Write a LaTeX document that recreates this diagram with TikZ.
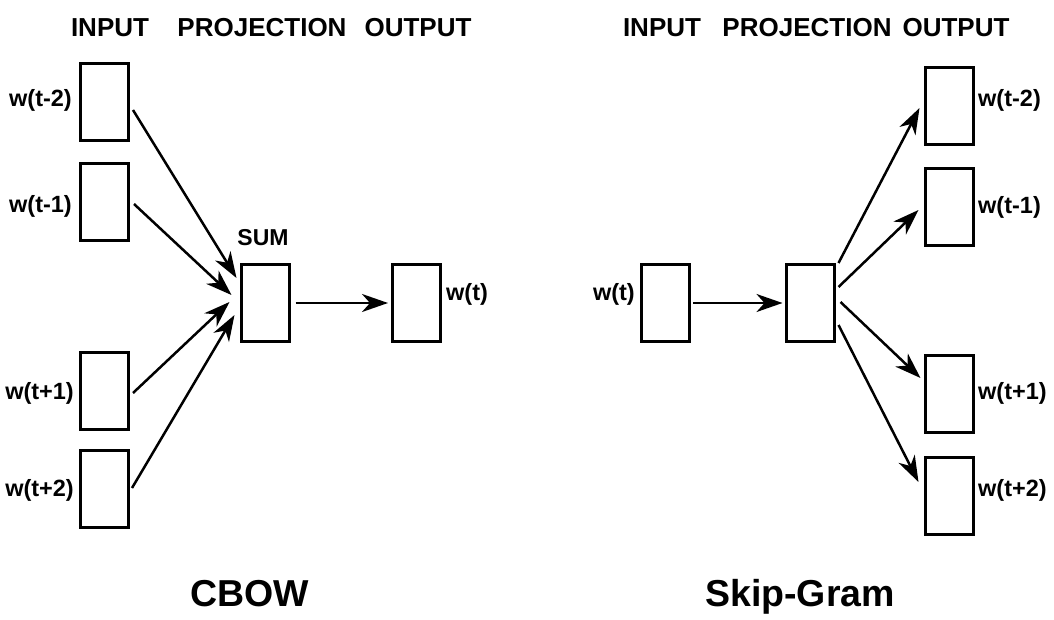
\documentclass[tikz,border=0pt]{standalone}
\usepackage{fontspec}
\setmainfont{Liberation Sans}
\usetikzlibrary{arrows.meta}
\begin{document}
\begin{tikzpicture}[x=1pt,y=-1pt,
  vbox/.style={draw, line width=3pt, minimum width=48pt, minimum height=77pt, inner sep=0pt},
  hdr/.style={anchor=base, font=\bfseries\fontsize{26}{26}\selectfont, inner sep=0pt},
  wlab/.style={font=\bfseries\fontsize{23.5}{23.5}\selectfont, inner sep=0pt},
  ttl/.style={anchor=base, font=\bfseries\fontsize{37.5}{37.5}\selectfont, inner sep=0pt},
  arr/.style={line width=2.5pt, -{Stealth[length=26pt,width=18pt,inset=8pt]}}]
\useasboundingbox (0,0) rectangle (1054,620);
% ---------- CBOW ----------
\node[hdr] (h1) at (110,37) {INPUT};
\node[hdr] (h2) at (262,37) {PROJECTION};
\node[hdr] (h3) at (418,37) {OUTPUT};
\node[vbox] (in1) at (104.5,102) {};
\node[vbox] (in2) at (104.5,202) {};
\node[vbox] (in3) at (104.5,391) {};
\node[vbox] (in4) at (104.5,489) {};
\node[vbox] (sum) at (265,303) {};
\node[vbox] (out) at (416.5,303) {};
\node[wlab, anchor=mid east] (l1) at (72,104) {w(t-2)};
\node[wlab, anchor=mid east] (l2) at (72,210) {w(t-1)};
\node[wlab, anchor=mid east] (l3) at (74,397) {w(t+1)};
\node[wlab, anchor=mid east] (l4) at (74,494) {w(t+2)};
\node[wlab, anchor=mid west] (lo) at (446,298) {w(t)};
\node[anchor=base, font=\bfseries\fontsize{23}{23}\selectfont, inner sep=0pt] (sumlab) at (263,246) {SUM};
\draw[arr] ([shift={(3,8)}]in1.east) -- ([shift={(-3,-25)}]sum.west);
\draw[arr] ([shift={(4,2)}]in2.east) -- ([shift={(-8,-8)}]sum.west);
\draw[arr] ([shift={(3,2)}]in3.east) -- ([shift={(-10,-1)}]sum.west);
\draw[arr] ([shift={(2,-1)}]in4.east) -- ([shift={(-5,12)}]sum.west);
\draw[arr] ([shift={(5,0)}]sum.east) -- ([shift={(-3,0)}]out.west);
\node[ttl] (t1) at (250,606) {CBOW};
% ---------- Skip-Gram ----------
\node[hdr] (k1) at (662,37) {INPUT};
\node[hdr] (k2) at (807,37) {PROJECTION};
\node[hdr] (k3) at (956,37) {OUTPUT};
\node[vbox] (rin) at (665.5,303) {};
\node[vbox] (proj) at (810,303) {};
\node[vbox] (o1) at (949,106) {};
\node[vbox] (o2) at (949,207) {};
\node[vbox] (o3) at (949,394) {};
\node[vbox] (o4) at (949,496) {};
\node[wlab, anchor=mid east] (rl) at (635,298) {w(t)};
\node[wlab, anchor=mid west] (r1) at (978,104) {w(t-2)};
\node[wlab, anchor=mid west] (r2) at (978,211) {w(t-1)};
\node[wlab, anchor=mid west] (r3) at (978,397) {w(t+1)};
\node[wlab, anchor=mid west] (r4) at (978,494) {w(t+2)};
\draw[arr] ([shift={(2,0)}]rin.east) -- ([shift={(-2,0)}]proj.west);
\draw[arr] ([shift={(3,-40)}]proj.east) -- ([shift={(-4,2)}]o1.west);
\draw[arr] ([shift={(3,-16)}]proj.east) -- ([shift={(-5,3)}]o2.west);
\draw[arr] ([shift={(5,-1)}]proj.east) -- ([shift={(-3,-16)}]o3.west);
\draw[arr] ([shift={(3,22)}]proj.east) -- ([shift={(-5,-14)}]o4.west);
\node[ttl] (t2) at (800,606) {Skip-Gram};
\end{tikzpicture}
\end{document}
